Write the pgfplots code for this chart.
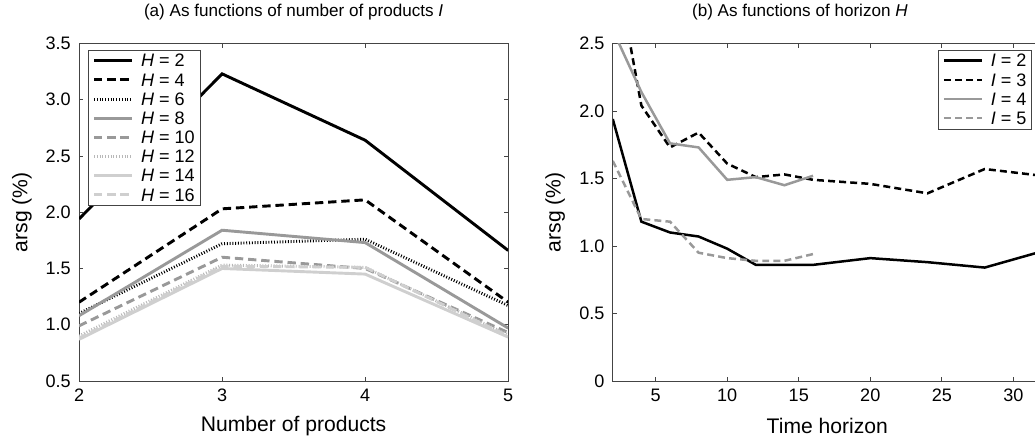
\documentclass[border=0pt]{standalone}
\usepackage{fontspec}
\setmainfont{Liberation Sans}
\usepackage{pgfplots}
\pgfplotsset{compat=1.18}

\definecolor{midgray}{HTML}{999999}
\definecolor{lightgray}{HTML}{CFCFCF}
\definecolor{axisgray}{HTML}{444444}

\newcommand{\tickfont}{\fontsize{13}{15.5}\selectfont}
\newcommand{\labfont}{\fontsize{15.2}{18}\selectfont}
\newcommand{\titfont}{\fontsize{12.3}{14.5}\selectfont}

\pgfplotsset{
  every axis/.append style={
    scale only axis,
    width=309pt, height=243pt,
    axis line style={axisgray, line width=0.6pt},
    tick style={axisgray, line width=0.6pt},
    tick align=inside,
    major tick length=3pt,
    tick label style={font=\tickfont},
    xticklabel style={yshift=-2pt},
    yticklabel style={xshift=-2.5pt},
    label style={font=\labfont},
    /pgf/number format/assume math mode=true,
    legend cell align=left,
    legend style={draw=axisgray, line width=0.5pt, row sep=2.2pt,
      inner xsep=3pt, inner ysep=2pt, font=\tickfont,
      nodes={inner sep=0.8pt, text height=9.4pt, text depth=0.6pt},
      /tikz/every odd column/.append style={column sep=5pt}},
    legend image code/.code={\draw[#1] (0cm,0cm) -- (0.95cm,0cm);},
  },
  sblack/.style={black, line width=2.1pt},
  dblack/.style={black, line width=2.1pt, dash pattern=on 6pt off 3.5pt},
  tblack/.style={black, line width=2.1pt, dash pattern=on 0.7pt off 1.3pt},
  sgray/.style={midgray, line width=2.1pt},
  dgray/.style={midgray, line width=2.1pt, dash pattern=on 6pt off 3.5pt},
  tgray/.style={midgray!70, line width=2.1pt, dash pattern=on 0.7pt off 1.3pt},
  slight/.style={lightgray, line width=2.1pt},
  dlight/.style={lightgray, line width=2.1pt, dash pattern=on 6pt off 3.5pt},
}

\begin{document}
\begin{tikzpicture}
% (a) against number of products
\begin{axis}[
    at={(0pt,0pt)}, anchor=south west,
    xmin=2, xmax=5, ymin=0.5, ymax=3.5,
    xtick={2,3,4,5},
    ytick={0.5,1,1.5,2,2.5,3,3.5},
    yticklabels={0.5,1.0,1.5,2.0,2.5,3.0,3.5},
    xlabel={Number of products},
    ylabel={arsg (\%)},
    xlabel style={at={(axis description cs:0.5,-0.133)}, anchor=center},
    ylabel style={at={(axis description cs:-0.133,0.5)}, anchor=center},
    title={(a) As functions of number of products \textit{I}},
    title style={at={(axis description cs:0.5,1.067)}, anchor=center, font=\titfont},
    legend style={at={(axis description cs:0.021,0.982)}, anchor=north west},
]
\addplot[sblack] coordinates {(2,1.94) (3,3.23) (4,2.64) (5,1.66)};
\addlegendentry{\textit{H} = 2}
\addplot[dblack] coordinates {(2,1.20) (3,2.03) (4,2.11) (5,1.20)};
\addlegendentry{\textit{H} = 4}
\addplot[tblack] coordinates {(2,1.10) (3,1.72) (4,1.76) (5,1.17)};
\addlegendentry{\textit{H} = 6}
\addplot[sgray] coordinates {(2,1.08) (3,1.84) (4,1.73) (5,0.97)};
\addlegendentry{\textit{H} = 8}
\addplot[dgray] coordinates {(2,0.99) (3,1.60) (4,1.50) (5,0.93)};
\addlegendentry{\textit{H} = 10}
\addplot[tgray] coordinates {(2,0.90) (3,1.53) (4,1.51) (5,0.91)};
\addlegendentry{\textit{H} = 12}
\addplot[slight] coordinates {(2,0.87) (3,1.50) (4,1.45) (5,0.89)};
\addlegendentry{\textit{H} = 14}
\addplot[dlight] coordinates {(2,0.88) (3,1.52) (4,1.51) (5,0.90)};
\addlegendentry{\textit{H} = 16}
\end{axis}

% (b) against horizon
\begin{axis}[
    at={(384.3pt,0pt)}, anchor=south west,
    xmin=2, xmax=32, ymin=0, ymax=2.5,
    xtick={5,10,15,20,25,30},
    ytick={0,0.5,1,1.5,2,2.5},
    yticklabels={0,0.5,1.0,1.5,2.0,2.5},
    xlabel={Time horizon},
    ylabel={arsg (\%)},
    xlabel style={at={(axis description cs:0.5,-0.133)}, anchor=center},
    ylabel style={at={(axis description cs:-0.134,0.5)}, anchor=center},
    title={(b) As functions of horizon \textit{H}},
    title style={at={(axis description cs:0.436,1.067)}, anchor=center, font=\titfont},
    legend style={at={(axis description cs:0.977,0.982)}, anchor=north east},
]
\addplot[black, line width=1.8pt] coordinates {
  (2,1.94) (4,1.18) (6,1.10) (8,1.07) (10,0.98) (12,0.86) (16,0.86)
  (20,0.91) (24,0.88) (28,0.84) (32,0.96)};
\addlegendentry{\textit{I} = 2}
\addplot[black, line width=1.8pt, dash pattern=on 5pt off 3pt] coordinates {
  (2,3.20) (4,2.04) (6,1.73) (8,1.84) (10,1.61) (12,1.51) (14,1.53)
  (16,1.49) (20,1.46) (24,1.39) (28,1.57) (32,1.52)};
\addlegendentry{\textit{I} = 3}
\addplot[midgray, line width=1.8pt] coordinates {
  (2,2.60) (4,2.14) (6,1.76) (8,1.73) (10,1.49) (12,1.51) (14,1.45) (16,1.52)};
\addlegendentry{\textit{I} = 4}
\addplot[midgray, line width=1.8pt, dash pattern=on 5pt off 3pt] coordinates {
  (2,1.63) (4,1.20) (6,1.18) (8,0.95) (10,0.91) (12,0.89) (14,0.89) (16,0.94)};
\addlegendentry{\textit{I} = 5}
\end{axis}

\pgfresetboundingbox
\path (-56.9pt,-41.8pt) rectangle (688.3pt,274.3pt);
\end{tikzpicture}
\end{document}
